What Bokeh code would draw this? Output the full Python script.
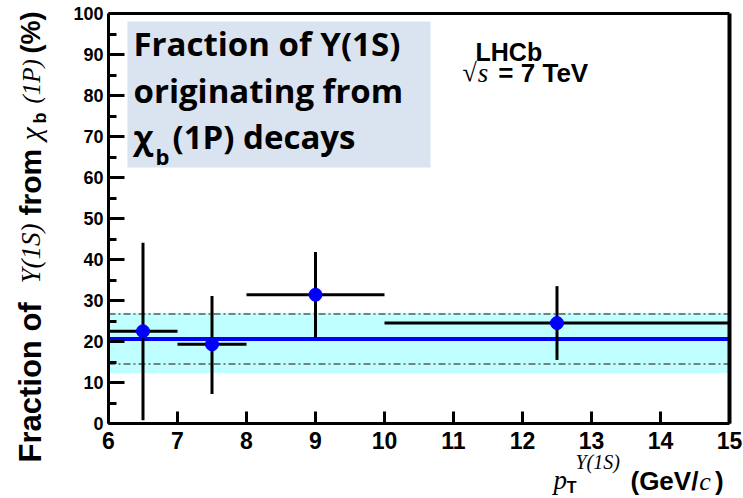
import numpy as np
from bokeh.plotting import figure
from bokeh.models import Range1d, Label, BoxAnnotation, FixedTicker, LinearAxis
from bokeh.embed import file_html
from bokeh.resources import INLINE

# ---------------- data ----------------
pt_center = [6.5, 7.5, 9.0, 12.5]
pt_low = [6.0, 7.0, 8.0, 10.0]
pt_high = [7.0, 8.0, 10.0, 15.0]
fraction = [22.5, 19.3, 31.4, 24.5]
frac_low = [0.8, 7.2, 20.9, 15.5]
frac_high = [44.1, 31.1, 41.8, 33.5]
fit_mean = [20.6]
fit_band_low = [12.3]
fit_band_high = [27.0]
fit_syst = [14.5, 26.7]
x_limits = [6.0, 15.0]
y_limits = [0.0, 100.0]
x_ticks = [6, 7, 8, 9, 10, 11, 12, 13, 14, 15]
y_ticks = [0, 10, 20, 30, 40, 50, 60, 70, 80, 90, 100]
y_minor = [5, 15, 25, 35, 45, 55, 65, 75, 85, 95]

SANS = "Liberation Sans"
SERIF = "Liberation Serif"
TF = "Open Sans"
DESCENT = {SANS: 0.212, SERIF: 0.216, TF: 0.36}

# canvas layout: the plot box spans pixels 108..729 (x) and 13..423 (y)
W, H = 743, 498
PX0, PX1, PY0, PY1 = 108.0, 729.0, 13.0, 423.0
sx = (PX1 - PX0) / (x_limits[1] - x_limits[0])
sy = (PY1 - PY0) / (y_limits[1] - y_limits[0])
xr = Range1d(x_limits[0] - PX0 / sx, x_limits[1] + (W - PX1) / sx)
yr = Range1d(y_limits[0] - (H - PY1) / sy, y_limits[1] + PY0 / sy)

p = figure(width=W, height=H, x_range=xr, y_range=yr, x_axis_type=None, y_axis_type=None,
           output_backend="svg", toolbar_location=None, title=None, min_border=0)
p.background_fill_color = "white"
p.border_fill_color = "white"
p.outline_line_color = None

# fit band and lines
p.quad(left=[x_limits[0]], right=[x_limits[1]], bottom=fit_band_low, top=fit_band_high,
       fill_color="#c0ffff", line_color=None)
p.segment(x0=[x_limits[0]] * 2, x1=[x_limits[1]] * 2, y0=fit_syst, y1=fit_syst,
          line_color="#5a5a5a", line_width=1.5, line_dash="7 3 2 3")
p.segment(x0=[x_limits[0]], x1=[x_limits[1]], y0=fit_mean, y1=fit_mean,
          line_color="#0000ff", line_width=4)

# error bars and points
p.segment(x0=pt_low, y0=fraction, x1=pt_high, y1=fraction, line_color="black", line_width=3)
p.segment(x0=pt_center, y0=frac_low, x1=pt_center, y1=frac_high, line_color="black", line_width=3)
p.scatter(pt_center, fraction, size=13, fill_color="#0000ff", line_color="#0000ff")

# axes (fixed at the plot box edges)
xax = LinearAxis(fixed_location=y_limits[0], bounds=tuple(x_limits),
                 ticker=FixedTicker(ticks=x_ticks, minor_ticks=[]))
yax = LinearAxis(fixed_location=x_limits[0], bounds=tuple(y_limits),
                 ticker=FixedTicker(ticks=y_ticks, minor_ticks=y_minor))
tax = LinearAxis(fixed_location=y_limits[1], bounds=tuple(x_limits),
                 ticker=FixedTicker(ticks=[], minor_ticks=[]))
rax = LinearAxis(fixed_location=x_limits[1], bounds=tuple(y_limits),
                 ticker=FixedTicker(ticks=[], minor_ticks=[]))
for ax in (xax, yax, tax, rax):
    ax.axis_line_width = 3
    ax.axis_line_color = "black"
    ax.major_tick_line_width = 3
    ax.minor_tick_line_width = 3
    ax.major_tick_out = 0
    ax.minor_tick_out = 0
    ax.major_label_text_font = SANS
    ax.major_label_text_font_style = "bold"
    ax.major_label_text_color = "black"
xax.major_tick_in = 12
xax.minor_tick_line_color = None
xax.major_label_text_font_size = "23px"
xax.major_label_standoff = 8
yax.major_tick_in = 16
yax.minor_tick_in = 8
yax.major_label_text_font_size = "18px"
yax.major_label_standoff = 5
rax.axis_line_width = 4
for ax in (tax, rax):
    ax.major_tick_line_color = None
    ax.minor_tick_line_color = None
    ax.major_label_text_color = None
p.add_layout(xax, "below")
p.add_layout(yax, "left")
p.add_layout(tax, "above")
p.add_layout(rax, "right")


def lab(x, y, text, size, font=SANS, style="bold", angle=0.0):
    """(x, y) is the text's baseline start in data units."""
    d = DESCENT[font] * size
    if angle:
        x = x - d / sx
    else:
        y = y + d / sy
    p.add_layout(Label(x=x, y=y, text=text, text_font=font, text_font_style=style,
                       text_font_size=f"{size}px", text_color="black", angle=angle,
                       text_align="left", text_baseline="alphabetic"))


# title box
p.add_layout(BoxAnnotation(left=6.275, right=10.667, bottom=62.44, top=98.05,
                           fill_color="#dae3f0", fill_alpha=1.0, line_color=None))
lab(6.362, 89.76, "Fraction of Y(1S)", 33, font=TF)
lab(6.362, 78.29, "originating from", 33, font=TF)
lab(6.362, 67.07, "χ", 33, font=TF)
lab(6.681, 63.41, "b", 22, font=TF)
lab(6.928, 67.07, "(1P) decays", 33, font=TF)

# LHCb text
lab(11.319, 89.27, "LHCb", 25)
lab(11.13, 84.15, "√", 26, font=SERIF, style="normal")
lab(11.35, 84.15, "s", 27, font=SERIF, style="italic")
lab(11.65, 84.15, "= 7 TeV", 26)

# x-axis label
lab(12.449, -15.3, "p", 27, font=SERIF, style="italic")
lab(12.64, -16.4, "T", 16)
lab(12.768, -10.5, "Υ(1S)", 20, font=SERIF, style="italic")
lab(13.565, -15.4, "(GeV/", 26)
lab(14.56, -15.4, "c", 26, font=SERIF, style="italic")
lab(14.79, -15.4, ")", 26)

# y-axis label (rotated)
R = np.pi / 2
XB = 4.96
lab(XB, -9.51, "Fraction of", 31, angle=R)
lab(XB, 34.15, "Υ(1S)", 27, font=SERIF, style="italic", angle=R)
lab(XB, 50.73, "from", 30, angle=R)
lab(XB, 69.02, "χ", 30, font=SERIF, style="italic", angle=R)
lab(XB + 0.1, 73.17, "b", 18, angle=R)
lab(XB, 78.05, "(1P)", 25, font=SERIF, style="italic", angle=R)
lab(XB, 90.24, "(%)", 27, angle=R)

open("out.html", "w").write(file_html(p, INLINE))
